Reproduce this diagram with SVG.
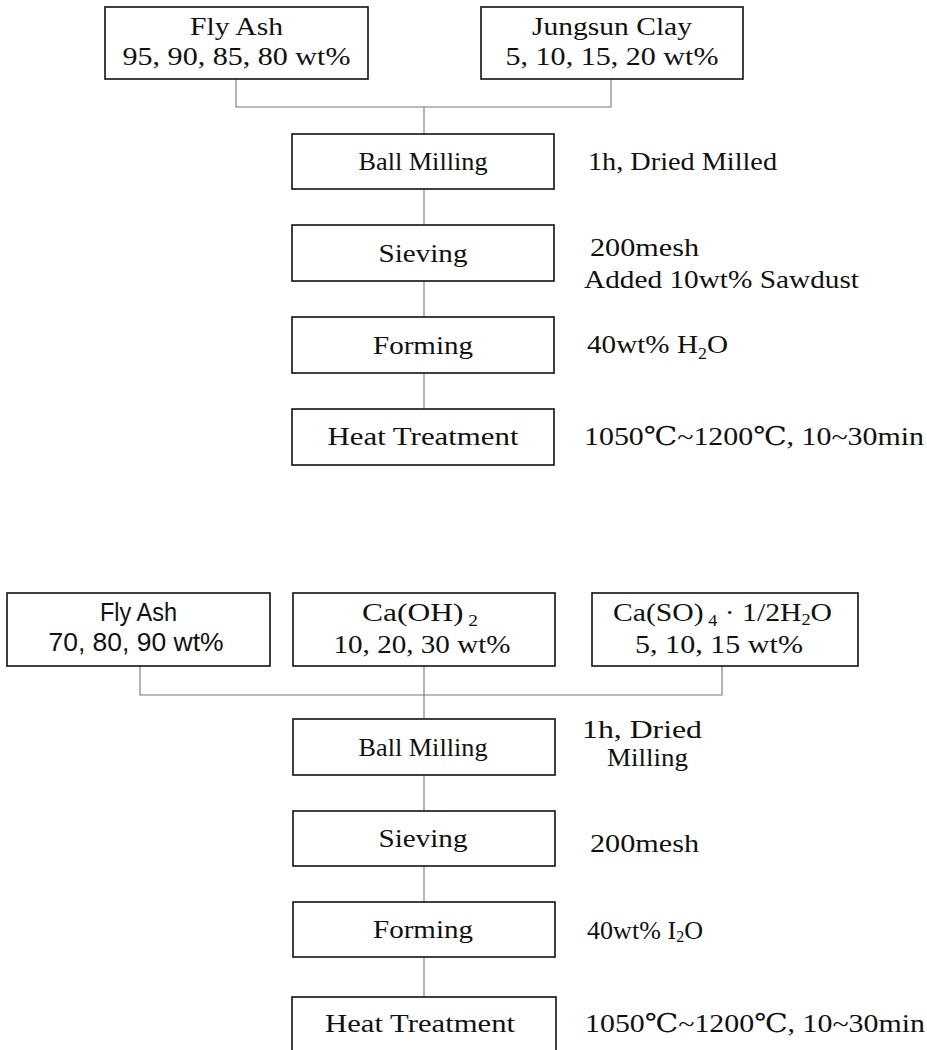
<svg xmlns="http://www.w3.org/2000/svg" width="927" height="1050" viewBox="0 0 927 1050">
<style>
.box{fill:#fff;stroke:#111;stroke-width:1.6}
.con{fill:none;stroke:#777;stroke-width:1.1}
text{font-family:"Liberation Serif","DejaVu Serif",serif;font-size:26px;fill:#111}
.c{text-anchor:middle}
.sans{font-family:"Liberation Sans","DejaVu Sans",sans-serif}
.sub{font-size:16px}
</style>
<rect width="927" height="1050" fill="#fff"/>
<g id="connectors">
<path class="con" d="M236 79V107H611V79M424 107V134"/>
<path class="con" d="M424 189V225M424 281V317M424 373V409"/>
<path class="con" d="M140 666V695H722V666M424 666V719"/>
<path class="con" d="M424 775V811M424 866V902M424 957V997"/>
</g>
<g id="top-flyash"><rect class="box" x="105" y="7" width="263" height="72"/>
<text class="c" x="236.5" y="35" textLength="93" lengthAdjust="spacingAndGlyphs">Fly Ash</text>
<text class="c" x="236.5" y="65" textLength="228" lengthAdjust="spacingAndGlyphs">95, 90, 85, 80 wt%</text></g>
<g id="top-clay"><rect class="box" x="481" y="7" width="262" height="72"/>
<text class="c" x="612" y="35" textLength="160" lengthAdjust="spacingAndGlyphs">Jungsun Clay</text>
<text class="c" x="612" y="65" textLength="213" lengthAdjust="spacingAndGlyphs">5, 10, 15, 20 wt%</text></g>
<g id="top-ball"><rect class="box" x="292" y="134" width="262" height="55"/>
<text class="c" x="423" y="170" textLength="129" lengthAdjust="spacingAndGlyphs">Ball Milling</text>
<text x="588" y="170" textLength="189" lengthAdjust="spacingAndGlyphs">1h, Dried Milled</text></g>
<g id="top-sieve"><rect class="box" x="292" y="225" width="262" height="56"/>
<text class="c" x="423" y="262" textLength="89" lengthAdjust="spacingAndGlyphs">Sieving</text>
<text x="590" y="256" textLength="109" lengthAdjust="spacingAndGlyphs">200mesh</text>
<text x="584" y="288" textLength="275" lengthAdjust="spacingAndGlyphs">Added 10wt% Sawdust</text></g>
<g id="top-form"><rect class="box" x="292" y="317" width="262" height="56"/>
<text class="c" x="423" y="354" textLength="100" lengthAdjust="spacingAndGlyphs">Forming</text>
<text x="587" y="353" textLength="141" lengthAdjust="spacingAndGlyphs">40wt% H<tspan class="sub" dy="6">2</tspan><tspan dy="-6">O</tspan></text></g>
<g id="top-heat"><rect class="box" x="292" y="409" width="262" height="56"/>
<text class="c" x="423" y="445" textLength="191" lengthAdjust="spacingAndGlyphs">Heat Treatment</text>
<text x="584" y="445" textLength="340" lengthAdjust="spacingAndGlyphs">1050℃~1200℃, 10~30min</text></g>
<g id="bot-flyash"><rect class="box" x="7" y="593" width="263" height="73"/>
<text class="c sans" x="138.5" y="621" textLength="77" lengthAdjust="spacingAndGlyphs">Fly Ash</text>
<text class="c sans" x="136" y="651" textLength="175" lengthAdjust="spacingAndGlyphs">70, 80, 90 wt%</text></g>
<g id="bot-caoh"><rect class="box" x="293" y="593" width="262" height="73"/>
<text x="362" y="621" textLength="116" lengthAdjust="spacingAndGlyphs">Ca(OH)<tspan class="sub" dx="4" dy="5">2</tspan></text>
<text class="c" x="422" y="653" textLength="177" lengthAdjust="spacingAndGlyphs">10, 20, 30 wt%</text></g>
<g id="bot-caso"><rect class="box" x="592" y="593" width="266" height="73"/>
<text x="613" y="621" textLength="219" lengthAdjust="spacingAndGlyphs">Ca(SO)<tspan class="sub" dx="4" dy="5">4</tspan><tspan dy="-5"> · 1/2H</tspan><tspan class="sub" dy="4">2</tspan><tspan dy="-4">O</tspan></text>
<text class="c" x="719" y="653" textLength="168" lengthAdjust="spacingAndGlyphs">5, 10, 15 wt%</text></g>
<g id="bot-ball"><rect class="box" x="293" y="719" width="262" height="56"/>
<text class="c" x="423" y="756" textLength="129" lengthAdjust="spacingAndGlyphs">Ball Milling</text>
<text x="582" y="738" textLength="120" lengthAdjust="spacingAndGlyphs">1h, Dried</text>
<text x="607" y="766" textLength="81" lengthAdjust="spacingAndGlyphs">Milling</text></g>
<g id="bot-sieve"><rect class="box" x="293" y="811" width="262" height="55"/>
<text class="c" x="423" y="847" textLength="89" lengthAdjust="spacingAndGlyphs">Sieving</text>
<text x="590" y="852" textLength="109" lengthAdjust="spacingAndGlyphs">200mesh</text></g>
<g id="bot-form"><rect class="box" x="293" y="902" width="262" height="55"/>
<text class="c" x="423" y="938" textLength="100" lengthAdjust="spacingAndGlyphs">Forming</text>
<text x="587" y="939" textLength="116" lengthAdjust="spacingAndGlyphs">40wt% I<tspan class="sub" dy="3">2</tspan><tspan dy="-3">O</tspan></text></g>
<g id="bot-heat"><rect class="box" x="292" y="997" width="264" height="60"/>
<text class="c" x="420" y="1032" textLength="190" lengthAdjust="spacingAndGlyphs">Heat Treatment</text>
<text x="585" y="1032" textLength="340" lengthAdjust="spacingAndGlyphs">1050℃~1200℃, 10~30min</text></g>
</svg>
